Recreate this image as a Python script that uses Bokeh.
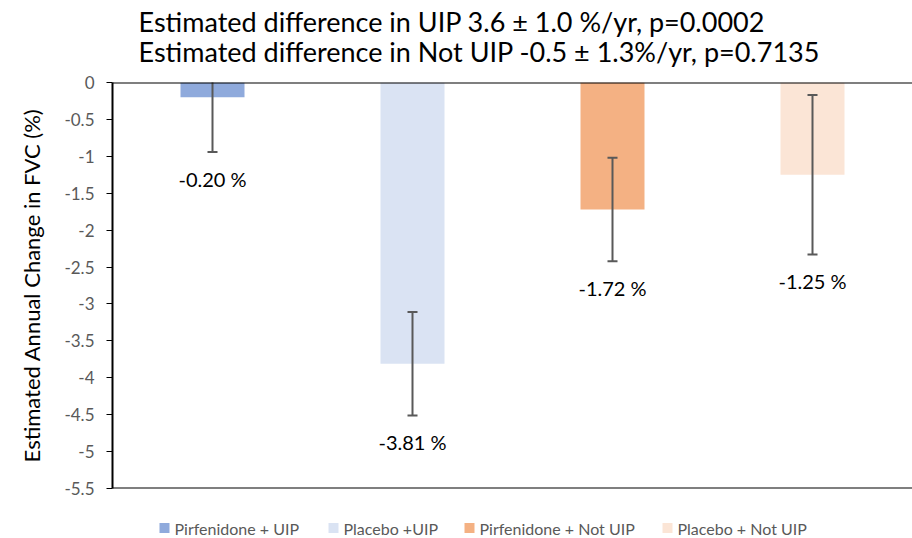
from bokeh.plotting import figure
from bokeh.layouts import column
from bokeh.models import FactorRange, Range1d, FixedTicker, Span
from bokeh.core.properties import value
from bokeh.embed import file_html
from bokeh.resources import INLINE

# ---- data ----
groups = ["Pirfenidone + UIP", "Placebo +UIP", "Pirfenidone + Not UIP", "Placebo + Not UIP"]
changes = [-0.20, -3.81, -1.72, -1.25]
errors = [0.74, 0.70, 0.70, 1.08]
colors = ["#8FAADC", "#DAE3F3", "#F4B183", "#FBE5D6"]
y_ticks = [0, -0.5, -1, -1.5, -2, -2.5, -3, -3.5, -4, -4.5, -5, -5.5]
y_tick_labels = ["0", "-0.5", "-1", "-1.5", "-2", "-2.5", "-3", "-3.5", "-4", "-4.5", "-5", "-5.5"]
title_lines = ["Estimated difference in UIP 3.6 \u00b1 1.0 %/yr, p=0.0002",
               "Estimated difference in Not UIP -0.5 \u00b1 1.3%/yr, p=0.7135"]
y_label = "Estimated Annual Change in FVC (%)"

# ---- layout / style constants ----
FONT = "Lato"
GREY = "#595959"
PAGE_W = 912
LEFT = 112                      # left border (y axis area)
TITLE_H = 71                    # height of the title strip
TITLE_BASELINES = [50, 20]      # baselines inside the title strip
TITLE_X = 138
LEGEND_H = 39                   # height of the legend strip
LEGEND_SWATCH_X = [164, 333, 469, 667]
LEGEND_Y = 10.5

lower = [c - e for c, e in zip(changes, errors)]
upper = [c + e for c, e in zip(changes, errors)]
value_labels = ["%.2f %%" % c for c in changes]


def strip(height):
    f = figure(width=PAGE_W, height=height, x_range=Range1d(LEFT, PAGE_W),
               y_range=Range1d(0, height), x_axis_location=None, y_axis_location=None,
               min_border_left=LEFT, min_border_right=0, min_border_top=0, min_border_bottom=0,
               output_backend="svg", toolbar_location=None)
    f.grid.visible = False
    f.outline_line_color = None
    f.background_fill_color = "white"
    f.border_fill_color = "white"
    return f


# ---- title strip ----
tt = strip(TITLE_H)
tt.text(x=[TITLE_X] * len(title_lines), y=TITLE_BASELINES, text=title_lines,
        text_align="left", text_baseline="alphabetic", text_font=value(FONT),
        text_font_size="27px", text_color="black")

# ---- main chart ----
p = figure(frame_width=800, frame_height=406, x_range=FactorRange(*groups, range_padding=0),
           y_range=Range1d(-5.5, 0), x_axis_location=None,
           output_backend="svg", toolbar_location=None,
           min_border_left=LEFT, min_border_right=0, min_border_top=11, min_border_bottom=11)
p.grid.visible = False
p.outline_line_color = None
p.background_fill_color = "white"
p.border_fill_color = "white"

for g, c, col in zip(groups, changes, colors):
    p.vbar(x=[g], top=[c], bottom=0, width=0.32, fill_color=col, line_color=None)

p.segment(x0=groups, y0=lower, x1=groups, y1=upper, line_color=GREY, line_width=2)
p.scatter(x=groups, y=lower, marker="dash", size=10, line_color=GREY, line_width=2)
p.scatter(x=groups, y=upper, marker="dash", size=10, line_color=GREY, line_width=2)

p.text(x=groups, y=lower, text=value_labels, text_align="center", text_baseline="middle",
       y_offset=27, text_font_size="20px", text_color="#000000", text_font=value(FONT))

for loc in (0, -5.5):
    p.add_layout(Span(location=loc, dimension="width", line_color="black", line_width=2))

ya = p.yaxis[0]
ya.ticker = FixedTicker(ticks=y_ticks)
ya.major_label_overrides = {t: l for t, l in zip(y_ticks, y_tick_labels)}
ya.axis_line_width = 2
ya.axis_line_color = "black"
ya.major_tick_line_color = "black"
ya.major_tick_line_width = 1
ya.major_tick_in = 0
ya.major_tick_out = 6
ya.minor_tick_line_color = None
ya.major_label_text_font = FONT
ya.major_label_text_font_size = "17px"
ya.major_label_text_color = GREY
ya.major_label_standoff = 12
ya.axis_label = y_label
ya.axis_label_text_font = FONT
ya.axis_label_text_font_size = "22px"
ya.axis_label_text_font_style = "normal"
ya.axis_label_text_color = "black"
ya.axis_label_standoff = 16

# ---- legend strip ----
lg = strip(LEGEND_H)
lg.scatter(x=LEGEND_SWATCH_X, y=LEGEND_Y, marker="square", size=10,
           fill_color=colors, line_color=None)
lg.text(x=[sx + 10 for sx in LEGEND_SWATCH_X], y=LEGEND_Y, text=groups,
        text_align="left", text_baseline="middle", text_font=value(FONT),
        text_font_size="16px", text_color=GREY)

layout = column(tt, p, lg, spacing=0)
open("out.html", "w").write(file_html(layout, INLINE))
